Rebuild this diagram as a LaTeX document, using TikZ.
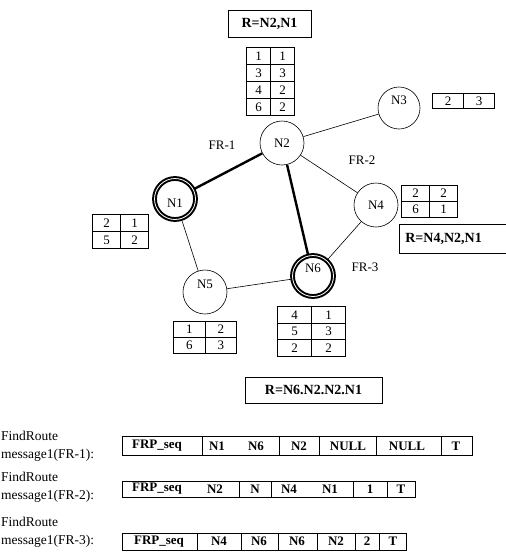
\documentclass[tikz,border=0pt]{standalone}
\usepackage{fontspec}
\setmainfont{Liberation Serif}
\usetikzlibrary{matrix}

\tikzset{
  site/.style={draw, circle, line width=0.6pt, minimum size=44pt, inner sep=0pt},
  hotsite/.style={site, line width=2pt, double=white, double distance=0.8pt, minimum size=41pt},
  hi/.style={text height=7pt, text depth=14pt},
  lo/.style={text height=17pt, text depth=0pt},
  link/.style={line width=0.6pt},
  hotlink/.style={line width=2.4pt},
  routebox/.style={draw, line width=0.7pt, inner sep=0pt, font=\fontsize{14}{16}\selectfont\bfseries},
  hoptab/.style 2 args={matrix of nodes, anchor=north west, inner sep=0pt,
    column sep=-0.6pt, row sep=-0.6pt,
    nodes={draw, line width=0.6pt, inner sep=0pt, minimum width=#1, minimum height=#2}},
  frame/.style={line width=0.6pt},
  cell/.style={font=\fontsize{13}{15}\selectfont\bfseries},
  msglabel/.style={anchor=west, align=left, inner sep=1pt, font=\fontsize{13.5}{18}\selectfont}
}

\begin{document}
\begin{tikzpicture}[x=1pt, y=-1pt, font=\fontsize{13}{15}\selectfont]
\useasboundingbox (0,0) rectangle (506,552);

% sites
\node (n2) [site] at (282,143) {N2};
\node (n3) [site, hi, minimum size=42pt] at (399,108) {N3};
\node (n4) [site] at (376,205) {N4};
\node (n1) [hotsite, lo] at (175,199) {N1};
\node (n5) [site, hi] at (205,292) {N5};
\node (n6) [hotsite, hi] at (313,276) {N6};

% links
\draw[hotlink] (n1) -- (n2);
\draw[hotlink] (n2) -- (n6);
\draw[link] (n2) -- (n3);
\draw[link] (n2) -- (n4);
\draw[link] (n1) -- (n5);
\draw[link] (n5) -- (n6);
\draw[link] (n4) -- (n6);

\node (fra) at (222,145) {FR-1};
\node (frb) at (362,160) {FR-2};
\node (frc) at (365,267) {FR-3};

% hop tables
\matrix (t2) [hoptab={24pt}{17pt}] at (246,47) {1 & 1 \\ 3 & 3 \\ 4 & 2 \\ 6 & 2 \\};
\matrix (t3) [hoptab={31pt}{15pt}] at (432,93) {2 & 3 \\};
\matrix (t4) [hoptab={28pt}{16pt}] at (401,185) {2 & 2 \\ 6 & 1 \\};
\matrix (t1) [hoptab={28pt}{17pt}] at (92,214) {2 & 1 \\ 5 & 2 \\};
\matrix (t5) [hoptab={31.5pt}{16pt}] at (173,321) {1 & 2 \\ 6 & 3 \\};
\matrix (t6) [hoptab={34pt}{16.5pt}] at (277,306) {4 & 1 \\ 5 & 3 \\ 2 & 2 \\};

% routes
\node (r2) [routebox, minimum width=83pt, minimum height=27pt] at (269.5,23.5) {R=N2,N1};
\node (r4) [routebox, anchor=west, text width=100pt, align=left, inner xsep=6pt, minimum height=29pt] at (399,238.5) {R=N4,N2,N1};
\node (r6) [routebox, minimum width=137pt, minimum height=26pt] at (313.5,390) {R=N6.N2.N2.N1};

% FindRoute messages
\node (ma) [msglabel] at (0,446) {FindRoute\\message1(FR-1):};
\node (mb) [msglabel] at (0,487) {FindRoute\\message1(FR-2):};
\node (mc) [msglabel] at (0,532.5) {FindRoute\\message1(FR-3):};

\draw[frame] (122,436) rectangle (472,455);
\foreach \x in {202,279,319,376,441} \draw[frame] (\x,436) -- (\x,456);
\foreach \x/\t [count=\i] in {157/FRP\_seq, 217/N1, 256/N6, 299/N2, 348/NULL, 407/NULL, 456/T}
  \node (ca\i) [cell] at (\x,446) {\t};

\draw[frame] (122,481) rectangle (415,497);
\foreach \x in {239,271,353,387} \draw[frame] (\x,481) -- (\x,498);
\foreach \x/\t [count=\i] in {157/FRP\_seq, 215/N2, 255/N, 289/N4, 330/N1, 370/1, 401/T}
  \node (cb\i) [cell] at (\x,489) {\t};

\draw[frame] (122,533) rectangle (406,550);
\foreach \x in {197,241,278,317,355,379} \draw[frame] (\x,533) -- (\x,550);
\foreach \x/\t [count=\i] in {159/FRP\_seq, 219/N4, 259/N6, 297/N6, 336/N2, 367/2, 393/T}
  \node (cc\i) [cell] at (\x,541.5) {\t};

\end{tikzpicture}
\end{document}
